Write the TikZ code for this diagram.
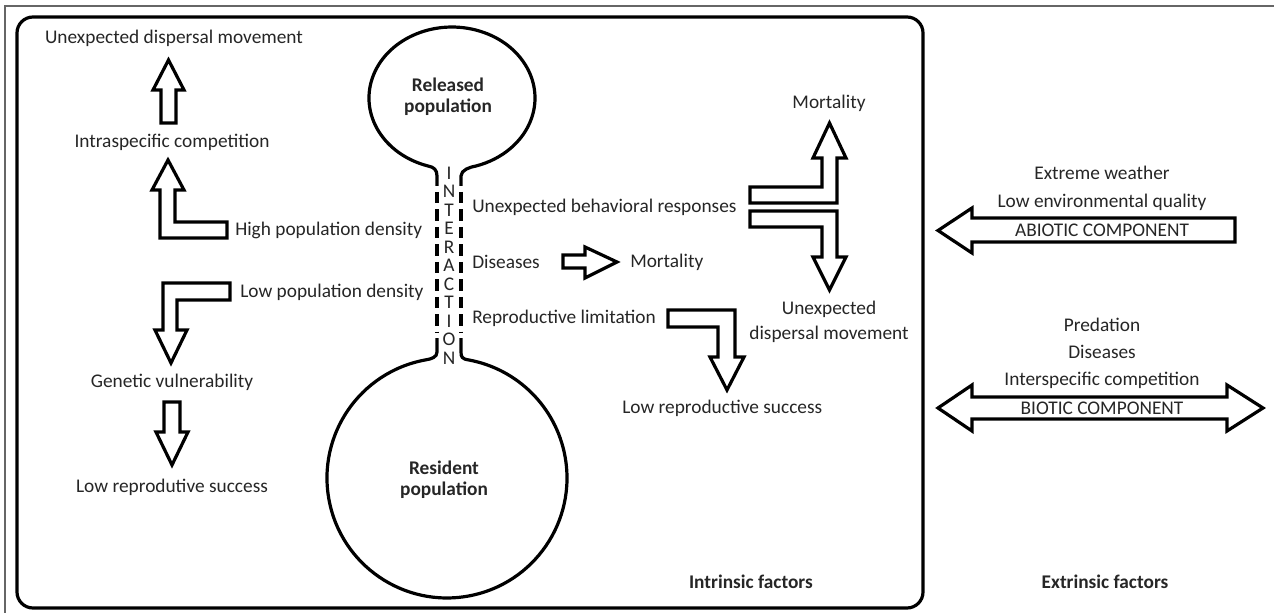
\documentclass[tikz,border=0pt]{standalone}
\usepackage{fontspec}
\setmainfont{Carlito}
\begin{document}
\begin{tikzpicture}[x=0.75pt,y=-0.75pt,
  txt/.style={font=\fontsize{14.5}{15}\selectfont, text=black!85, inner sep=0pt},
  btxt/.style={font=\fontsize{14.5}{15}\selectfont\bfseries, text=black!85, inner sep=0pt, align=center},
  blk/.style={draw=black, line width=2.4pt, fill=white, line join=miter, miter limit=20},
  frame/.style={draw=black, line width=2.4pt, rounded corners=12pt},
  cell/.style={draw=black, line width=2.4pt},
  neck/.style={draw=black, line width=3pt, dash pattern=on 8.5pt off 4.6pt}
]
\useasboundingbox (0,0) rectangle (1274,613);
\fill[white] (0,0) rectangle (1274,613);
% outer thin frame
\draw[black!60, line width=1.1pt] (5,613) -- (5,6) -- (1274,6);
% main rounded frame
\draw[frame] (17,17) rectangle (923,608);

% released population (top circle)
\draw[cell] (437,186) -- (437,176) .. controls (437,170) and (434,167) .. (428,166)
  arc[start angle=106.8, end angle=433.2, x radius=83, y radius=71]
  .. controls (470,167) and (461,170) .. (461,176) -- (461,186);
% resident population (bottom circle)
\draw[cell] (437,338) -- (437,352) .. controls (437,357) and (432,359) .. (425,360)
  arc[start angle=259.44, end angle=-79.44, radius=120]
  .. controls (462,359) and (461,357) .. (461,352) -- (461,338);
% dashed neck
\draw[neck] (437,192) -- (437,333);
\draw[neck] (461,192) -- (461,333);

\node[btxt] (rel) at (448,97) {Released\\[1pt]population};
\node[btxt] (res) at (444,480) {Resident\\[1pt]population};

\foreach \l [count=\i] in {I,N,T,E,R,A,C,T,I,O,N}
  \node[txt] (int\i) at (449,{173+18.5*(\i-1)}) {\l};

% left side
\node[txt] (udm) at (174,38) {Unexpected dispersal movement};
\node[txt] (icomp) at (172,142) {Intraspecific competition};
\node[txt, anchor=west] (hpd) at (235,230) {High population density};
\node[txt, anchor=west] (lpd) at (240,292) {Low population density};
\node[txt] (gv) at (172,382) {Genetic vulnerability};
\node[txt] (lrs1) at (172,487) {Low reprodutive success};

\draw[blk] (161,123) -- (161,90) -- (153,90) -- (168.5,60) -- (184,90) -- (176,90) -- (176,123) -- cycle;
\draw[blk] (227,238) -- (160,238) -- (160,190) -- (152,190) -- (168,160) -- (184,190) -- (175,190) -- (175,222) -- (227,222) -- cycle;
\draw[blk] (230,283) -- (163,283) -- (163,330) -- (155,330) -- (171,363) -- (187,330) -- (177,330) -- (177,300) -- (230,300) -- cycle;
\draw[blk] (164,402) -- (180,402) -- (180,432) -- (188,432) -- (172,465) -- (156,432) -- (164,432) -- cycle;

% middle right
\node[txt, anchor=west] (ubr) at (472,207) {Unexpected behavioral responses};
\node[txt, anchor=west] (dis1) at (472,262) {Diseases};
\node[txt, anchor=west] (mort1) at (630,262) {Mortality};
\node[txt, anchor=west] (rl) at (472,318) {Reproductive limitation};
\node[txt, anchor=west] (lrs2) at (622,408) {Low reproductive success};
\node[txt] (mort2) at (829,103) {Mortality};
\node[txt, align=center] (udm2) at (829,322) {Unexpected\\[4pt]dispersal movement};
\node[btxt, anchor=east] (intr) at (813,582) {Intrinsic factors};

\draw[blk] (563,255) -- (585,255) -- (585,247) -- (617,262) -- (585,278) -- (585,268) -- (563,268) -- cycle;
\draw[blk] (668,310) -- (735,310) -- (735,357) -- (744,357) -- (727,390) -- (710,357) -- (718,357) -- (718,327) -- (668,327) -- cycle;
\draw[blk] (750,187) -- (822,187) -- (822,158) -- (813,158) -- (829.5,123) -- (846,158) -- (837,158) -- (837,203) -- (750,203) -- cycle;
\draw[blk] (750,211) -- (837,211) -- (837,257) -- (846,257) -- (829.5,290) -- (813,257) -- (822,257) -- (822,227) -- (750,227) -- cycle;

% extrinsic
\draw[blk] (1235,218) -- (972,218) -- (972,208) -- (938,230.5) -- (972,253) -- (972,242) -- (1235,242) -- cycle;
\draw[blk] (972,397) -- (1227,397) -- (1227,385) -- (1263,408) -- (1227,431) -- (1227,419) -- (972,419) -- (972,431) -- (938,408) -- (972,385) -- cycle;

\node[txt] (ew) at (1102,173) {Extreme weather};
\node[txt] (leq) at (1102,202) {Low environmental quality};
\node[txt] (abio) at (1102,230) {ABIOTIC COMPONENT};
\node[txt] (pred) at (1102,325) {Predation};
\node[txt] (dis2) at (1102,352) {Diseases};
\node[txt] (isc) at (1102,380) {Interspecific competition};
\node[txt] (bio) at (1102,408) {BIOTIC COMPONENT};
\node[btxt] (extr) at (1105,582) {Extrinsic factors};
\end{tikzpicture}
\end{document}
